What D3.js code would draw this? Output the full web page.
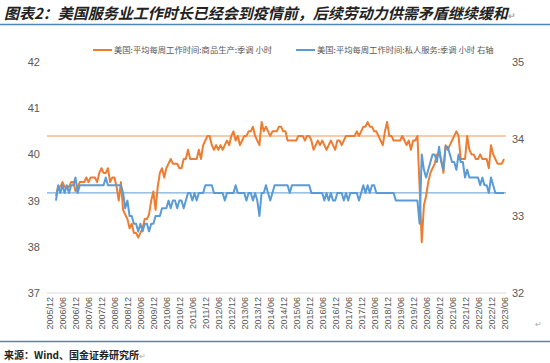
<!DOCTYPE html>
<html lang="zh">
<head>
<meta charset="UTF-8">
<title>美国服务业工作时长</title>
<script src="https://cdn.jsdelivr.net/npm/d3@7"></script>
<style>
  body { margin: 0; background: #fff; }
  svg { display: block; font-family: "Noto Sans CJK SC", "Noto Sans", sans-serif; }
</style>
</head>
<body>
<div id="chart"></div>
<script>
// 横轴：2005/12 - 2023/06 按月，数据从 2006/03 开始
const fmt = d3.timeFormat("%Y/%m");
const months = d3.timeMonth.range(new Date(2005, 11, 1), new Date(2023, 6, 1)).map(fmt);
const tickLabels = months.filter((d, i) => i % 6 === 0);
const dataStart = "2006/03";

// 美国:平均每周工作时间:商品生产:季调 (左轴)
const goodsHours = [
  39.1, 39.3, 39.3, 39.4, 39.3, 39.3, 39.3, 39.4, 39.4, 39.2, 39.3, 39.4,
  39.4, 39.4, 39.5, 39.4, 39.5, 39.5, 39.5, 39.4, 39.6, 39.7, 39.6, 39.6,
  39.7, 39.4, 39.5, 39.5, 39.3, 39.0, 39.4, 38.8, 38.7, 38.6, 38.4, 38.5,
  38.3, 38.3, 38.2, 38.3, 38.4, 38.6, 38.6, 38.7, 39.0, 39.2, 38.8, 39.3,
  39.6, 39.7, 39.5, 39.7, 39.8, 39.9, 39.8, 39.8, 39.8, 39.7, 39.7, 39.9,
  39.9, 40.1, 39.9, 39.9, 39.9, 39.9, 40.1, 39.9, 40.2, 40.3, 40.4, 40.4,
  40.2, 40.1, 40.2, 40.1, 40.2, 40.1, 40.2, 40.3, 40.2, 40.4, 40.5, 40.3,
  40.4, 40.2, 40.3, 40.4, 40.4, 40.5, 40.5, 40.6, 40.4, 40.3, 40.2, 40.7,
  40.5, 40.6, 40.5, 40.4, 40.5, 40.5, 40.5, 40.6, 40.6, 40.5, 40.5, 40.3,
  40.3, 40.3, 40.3, 40.3, 40.4, 40.4, 40.4, 40.3, 40.4, 40.4, 40.3, 40.1,
  40.2, 40.3, 40.2, 40.3, 40.2, 40.1, 40.2, 40.3, 40.2, 40.1, 40.3, 40.3,
  40.2, 40.3, 40.4, 40.4, 40.4, 40.4, 40.4, 40.5, 40.4, 40.5, 40.6, 40.6,
  40.7, 40.6, 40.6, 40.5, 40.5, 40.4, 40.3, 40.2, 40.5, 40.7, 40.4, 40.4,
  40.3, 40.3, 40.3, 40.3, 40.4, 40.3, 40.2, 40.3, 40.1, 40.3, 40.3, 40.4,
  39.3, 38.1, 38.9, 39.1, 39.4, 39.6, 39.7, 39.8, 40.0, 40.0, 39.9, 39.6,
  40.2, 40.1, 40.2, 40.3, 40.4, 40.5, 40.4, 39.9, 39.9, 39.9, 40.4, 40.1,
  40.0, 40.0, 39.9, 39.9, 40.0, 39.9, 39.9, 39.9, 39.7, 40.2, 40.0, 39.9,
  39.8, 39.8, 39.8, 39.9
];

// 美国:平均每周工作时间:私人服务:季调 (右轴)
const servicesHours = [
  33.2, 33.4, 33.3, 33.4, 33.3, 33.4, 33.3, 33.4, 33.4, 33.5, 33.3, 33.4,
  33.4, 33.4, 33.4, 33.4, 33.4, 33.4, 33.4, 33.4, 33.4, 33.4, 33.4, 33.5,
  33.4, 33.4, 33.4, 33.4, 33.4, 33.4, 33.4, 33.3, 33.1, 33.2, 33.0, 33.0,
  32.9, 32.9, 32.8, 32.9, 32.8, 32.9, 32.9, 32.8, 32.9, 32.9, 33.0, 33.0,
  33.0, 33.1, 33.1, 33.1, 33.2, 33.1, 33.2, 33.2, 33.1, 33.2, 33.2, 33.1,
  33.2, 33.3, 33.3, 33.2, 33.3, 33.2, 33.3, 33.3, 33.3, 33.4, 33.4, 33.4,
  33.4, 33.3, 33.3, 33.3, 33.3, 33.3, 33.2, 33.3, 33.3, 33.3, 33.3, 33.4,
  33.3, 33.3, 33.3, 33.3, 33.2, 33.3, 33.3, 33.2, 33.3, 33.2, 33.0, 33.3,
  33.3, 33.4, 33.3, 33.2, 33.3, 33.4, 33.4, 33.4, 33.4, 33.4, 33.4, 33.4,
  33.3, 33.4, 33.4, 33.4, 33.4, 33.4, 33.4, 33.4, 33.4, 33.4, 33.3, 33.3,
  33.3, 33.3, 33.3, 33.3, 33.2, 33.3, 33.2, 33.3, 33.2, 33.2, 33.3, 33.3,
  33.3, 33.2, 33.3, 33.2, 33.3, 33.3, 33.3, 33.3, 33.2, 33.3, 33.4, 33.3,
  33.4, 33.3, 33.4, 33.4, 33.3, 33.3, 33.3, 33.3, 33.3, 33.3, 33.3, 33.3,
  33.3, 33.2, 33.2, 33.2, 33.2, 33.2, 33.2, 33.2, 33.2, 33.2, 33.2, 33.2,
  32.9, 33.8, 33.6, 33.5, 33.6, 33.7, 33.8, 33.8, 33.7, 33.9, 33.7, 33.6,
  33.9, 33.9, 33.8, 33.7, 33.7, 33.6, 33.8, 33.7, 33.7, 33.5, 33.6, 33.5,
  33.5, 33.5, 33.5, 33.5, 33.4, 33.5, 33.4, 33.4, 33.3, 33.5, 33.4, 33.3,
  33.3, 33.3, 33.3, 33.3
];

// 参考线（疫情前水平）
const goodsRef = 40.4;
const servicesRef = 33.3;

const leftTicks = [37, 38, 39, 40, 41, 42];
const rightTicks = [32, 33, 34, 35];

const title = "图表2：美国服务业工作时长已经会到疫情前，后续劳动力供需矛盾继续缓和";
const source = "来源：Wind、国金证券研究所";
const legendNames = ["美国:平均每周工作时间:商品生产:季调 小时", "美国:平均每周工作时间:私人服务:季调 小时 右轴"];

const orange = "#ed7d31", blue = "#5b9bd5", gray = "#595959";
const W = 550, H = 363;

const svg = d3.select("#chart").append("svg")
  .attr("width", W)
  .attr("height", H);

// 标题
const t = svg.append("text")
  .attr("x", 4)
  .attr("y", 19)
  .attr("font-size", 15)
  .attr("font-weight", "bold")
  .attr("font-style", "italic")
  .attr("fill", "#222")
  .text(title);
t.append("tspan").attr("font-size", 9).attr("fill", "#aaa").attr("font-style", "normal").text("↵");

svg.append("line")
  .attr("x1", 0).attr("x2", W)
  .attr("y1", 24.5).attr("y2", 24.5)
  .attr("stroke", "#4e86b8").attr("stroke-width", 1.3);

// 比例尺
const x = d3.scalePoint().domain(months).range([49.5, 504]);
const yL = d3.scaleLinear().domain([37, 42]).range([293, 62]);
const yR = d3.scaleLinear().domain([32, 35]).range([293, 62]);

const dataMonths = months.slice(months.indexOf(dataStart));
const goods = dataMonths.map((m, i) => ({ m: m, v: goodsHours[i] }));
const services = dataMonths.map((m, i) => ({ m: m, v: servicesHours[i] }));

// 坐标轴
svg.append("line")
  .attr("x1", 47).attr("x2", 506)
  .attr("y1", yL(37)).attr("y2", yL(37))
  .attr("stroke", "#d9d9d9").attr("stroke-width", 1);

const gl = svg.append("g")
  .attr("transform", "translate(40,0)")
  .call(d3.axisLeft(yL).tickValues(leftTicks).tickFormat(d3.format("d")).tickSize(0).tickPadding(0));
gl.select(".domain").remove();
gl.selectAll("text").attr("fill", gray).attr("font-size", 11).attr("font-family", null);

const gr = svg.append("g")
  .attr("transform", "translate(512,0)")
  .call(d3.axisRight(yR).tickValues(rightTicks).tickFormat(d3.format("d")).tickSize(0).tickPadding(0));
gr.select(".domain").remove();
gr.selectAll("text").attr("fill", gray).attr("font-size", 11).attr("font-family", null);

const gx = svg.append("g")
  .attr("transform", "translate(0," + yL(37) + ")")
  .call(d3.axisBottom(x).tickValues(tickLabels).tickSize(0));
gx.select(".domain").remove();
gx.selectAll("text")
  .attr("transform", "rotate(-90)")
  .attr("x", -4)
  .attr("y", 0)
  .attr("dy", "0.35em")
  .attr("text-anchor", "end")
  .attr("fill", gray)
  .attr("font-size", 9)
  .attr("font-family", null);

// 参考线
svg.append("line")
  .attr("x1", 47).attr("x2", 506)
  .attr("y1", yL(goodsRef)).attr("y2", yL(goodsRef))
  .attr("stroke", "#f8cbad").attr("stroke-width", 2);
svg.append("line")
  .attr("x1", 47).attr("x2", 506)
  .attr("y1", yR(servicesRef)).attr("y2", yR(servicesRef))
  .attr("stroke", blue).attr("stroke-width", 1);

// 折线
svg.append("path")
  .datum(goods)
  .attr("fill", "none")
  .attr("stroke", orange)
  .attr("stroke-width", 2)
  .attr("stroke-linejoin", "round")
  .attr("d", d3.line().x(d => x(d.m)).y(d => yL(d.v)));

svg.append("path")
  .datum(services)
  .attr("fill", "none")
  .attr("stroke", blue)
  .attr("stroke-width", 2)
  .attr("stroke-linejoin", "round")
  .attr("d", d3.line().x(d => x(d.m)).y(d => yR(d.v)));

// 图例
const legend = svg.append("g").attr("font-size", 8.3).attr("fill", gray);
[[93, orange], [296, blue]].forEach((l, i) => {
  legend.append("line")
    .attr("x1", l[0]).attr("x2", l[0] + 19)
    .attr("y1", 50).attr("y2", 50)
    .attr("stroke", l[1]).attr("stroke-width", 2);
  legend.append("text")
    .attr("x", l[0] + 21)
    .attr("y", 53)
    .text(legendNames[i]);
});

// 底部
svg.append("text")
  .attr("x", 535).attr("y", 327)
  .attr("font-size", 8).attr("fill", "#aaa")
  .text("↵");

svg.append("line")
  .attr("x1", 0).attr("x2", W)
  .attr("y1", 341.5).attr("y2", 341.5)
  .attr("stroke", "#4e86b8").attr("stroke-width", 1.3);

const s = svg.append("text")
  .attr("x", 4)
  .attr("y", 359)
  .attr("font-size", 10)
  .attr("font-weight", "bold")
  .attr("fill", "#222")
  .text(source);
s.append("tspan").attr("font-size", 8).attr("fill", "#aaa").attr("font-weight", "normal").text("↵");
</script>
</body>
</html>
